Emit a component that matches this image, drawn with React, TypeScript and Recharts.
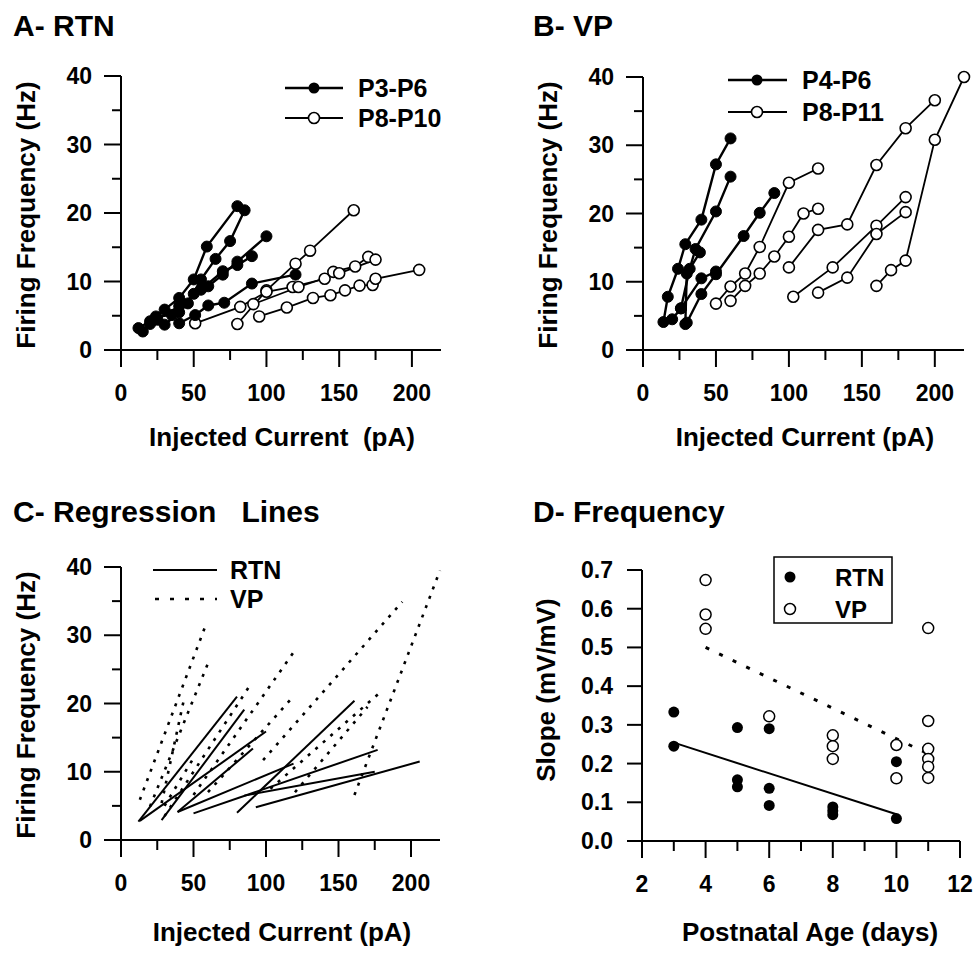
import React from 'react';
import { LineChart, ComposedChart, Line, Scatter, XAxis, YAxis } from 'recharts';

// ---- A: RTN, firing frequency vs injected current (pA, Hz) ----
const rtnP3P6a = [[12, 3.2], [20, 4.2], [30, 5.9], [40, 7.6], [50, 10.3], [59, 15.1], [80, 21.0]];
const rtnP3P6b = [[15, 2.7], [24, 4.9], [35, 5.1], [46, 6.8], [55, 10.3], [65, 13.3], [75, 15.9], [85, 20.4]];
const rtnP3P6c = [[20, 3.8], [30, 3.7], [40, 5.5], [50, 8.2], [60, 9.3], [70, 11.0], [80, 12.9], [100, 16.6]];
const rtnP3P6d = [[25, 4.5], [40, 6.4], [55, 8.8], [70, 11.5], [80, 12.4], [90, 13.7]];
const rtnP3P6e = [[40, 3.9], [51, 5.1], [60, 6.5], [71, 6.9], [90, 9.7], [120, 11.0]];

const rtnP8P10a = [[80, 3.8], [100, 8.7], [120, 12.6], [130, 14.5], [160, 20.4]];
const rtnP8P10b = [[51, 3.9], [82, 6.3], [100, 8.5], [118, 9.2], [140, 10.4], [146, 11.4], [161, 12.2], [170, 13.6]];
const rtnP8P10c = [[95, 4.9], [114, 6.2], [132, 7.6], [144, 8.0], [154, 8.7], [164, 9.4], [173, 9.5], [175, 10.4], [205, 11.7]];
const rtnP8P10d = [[91, 6.7], [122, 9.2], [150, 11.2], [175, 13.2]];

// ---- B: VP ----
const vpP4P6a = [[14, 4.1], [17, 7.8], [24, 11.9], [29, 15.5], [40, 19.1], [50, 27.2], [60, 31.0]];
const vpP4P6b = [[20, 4.5], [26, 6.1], [32, 11.9], [36, 14.8], [50, 20.3], [60, 25.4]];
const vpP4P6c = [[29, 3.8], [30, 11.2], [39, 14.3]];
const vpP4P6d = [[30, 4.0], [40, 8.2], [50, 11.1], [69, 16.7], [80, 20.1], [90, 23.0]];
const vpP4P6e = [[26, 6.1], [40, 10.5], [50, 11.5]];

const vpP8P11a = [[50, 6.8], [60, 9.3], [70, 11.2], [80, 15.1], [100, 24.5], [120, 26.6]];
const vpP8P11b = [[60, 7.2], [70, 9.4], [80, 11.2], [90, 13.7], [100, 16.6], [110, 20.0], [120, 20.7]];
const vpP8P11c = [[100, 12.1], [120, 17.6], [140, 18.4], [160, 27.1], [180, 32.5], [200, 36.6]];
const vpP8P11d = [[103, 7.8], [130, 12.1], [160, 18.2], [180, 22.4]];
const vpP8P11e = [[120, 8.4], [140, 10.6], [160, 17.0], [180, 20.2]];
const vpP8P11f = [[160, 9.4], [170, 11.7], [180, 13.1], [200, 30.8], [220, 40.0]];

// ---- C: regression lines, [x start, y start, x end, y end] ----
const rtnFits = [
  [12, 2.7, 80, 21.0], [28, 2.9, 85, 19.1], [13, 2.8, 100, 15.9], [39, 4.1, 91, 13.4],
  [50, 3.9, 177, 13.2], [39, 4.1, 119, 11.2], [80, 4.0, 161, 20.4], [93, 4.8, 206, 11.5],
  [85, 6.5, 175, 10.0],
];
const vpFits = [
  [13, 5.9, 59, 31.8], [20, 4.9, 60, 25.9], [28, 5.4, 43, 20.2], [30, 3.5, 90, 23.0],
  [30, 5.0, 50, 12.0], [50, 6.6, 120, 27.8], [60, 7.0, 117, 20.6], [98, 11.7, 194, 34.9],
  [103, 7.5, 178, 21.5], [120, 7.0, 170, 19.5], [161, 6.6, 220, 39.5],
];

// ---- D: slope vs postnatal age ----
const rtnAge = [3, 3, 5, 5, 5, 6, 6, 6, 8, 8, 8, 10, 10];
const rtnSlope = [0.333, 0.245, 0.293, 0.158, 0.14, 0.29, 0.136, 0.092, 0.088, 0.078, 0.068, 0.205, 0.058];
const vpAge = [4, 4, 4, 6, 8, 8, 8, 10, 10, 11, 11, 11, 11, 11, 11];
const vpSlope = [0.674, 0.585, 0.548, 0.322, 0.273, 0.245, 0.212, 0.248, 0.162, 0.55, 0.31, 0.238, 0.212, 0.192, 0.163];
const rtnFitAge = [3, 10];
const rtnFitSlope = [0.254, 0.069];
const vpFitAge = [4, 11];
const vpFitSlope = [0.5, 0.225];

// ---- ticks ----
const currentTicks = [0, 25, 50, 75, 100, 125, 150, 175, 200];
const freqTicks = [0, 5, 10, 15, 20, 25, 30, 35, 40];
const ageTicks = [2, 3, 4, 5, 6, 7, 8, 9, 10, 11, 12];
const slopeTicks = [0, 0.1, 0.2, 0.3, 0.4, 0.5, 0.6, 0.7];

const FONT = '"Liberation Sans", Arial, Helvetica, sans-serif';
const AX = { stroke: '#000', strokeWidth: 2 };

const pts = (a: number[][]) => a.map(([x, y]) => ({ x, y }));
const zip = (xs: number[], ys: number[]) => xs.map((x, i) => ({ x, y: ys[i] }));

// tick labels (major ticks only) through recharts
function xTick(major: (v: number) => boolean, fmt: (v: number) => string) {
  return (p: any) => {
    const v = p.payload.value;
    if (!major(v)) return <g />;
    return (
      <text x={p.x} y={p.y + 43} textAnchor="middle" dominantBaseline="central"
        fontFamily={FONT} fontWeight={700} fontSize={23} fill="#000">{fmt(v)}</text>
    );
  };
}

function yTick(major: (v: number) => boolean, fmt: (v: number) => string) {
  return (p: any) => {
    const v = p.payload.value;
    if (!major(v)) return <g />;
    return (
      <text x={p.x - 29} y={p.y} textAnchor="end" dominantBaseline="central"
        fontFamily={FONT} fontWeight={700} fontSize={23} fill="#000">{fmt(v)}</text>
    );
  };
}

const by50 = (v: number) => v % 50 === 0;
const by10 = (v: number) => v % 10 === 0;
const even = (v: number) => v % 2 === 0;
const str = (v: number) => String(v);

const filledDot = { r: 5.5, fill: '#000', stroke: '#000', strokeWidth: 1 };
const openDot = { r: 5.5, fill: '#fff', stroke: '#000', strokeWidth: 1.6 };

// plot frames in page pixels (left, right, top, bottom) and domains, shared by charts and tick marks
const FRAME_A = { l: 121, r: 441, t: 76, b: 350, x0: 0, x1: 220, y0: 0, y1: 40 };
const FRAME_B = { l: 643, r: 964, t: 77, b: 350, x0: 0, x1: 220, y0: 0, y1: 40 };
const FRAME_C = { l: 121, r: 440, t: 567, b: 840, x0: 0, x1: 220, y0: 0, y1: 40 };
const FRAME_D = { l: 642, r: 960, t: 570, b: 841, x0: 2, x1: 12, y0: 0, y1: 0.7 };

function FiringPanel(props: {
  left: number; top: number; width: number; height: number;
  margin: { top: number; right: number; bottom: number; left: number };
  young: number[][][]; old: number[][][];
}) {
  const { left, top, width, height, margin, young, old } = props;
  return (
    <div style={{ position: 'absolute', left, top }}>
      <LineChart width={width} height={height} margin={margin}>
        <XAxis type="number" dataKey="x" domain={[0, 220]} ticks={currentTicks} interval={0}
          tickSize={0} tickMargin={0} height={1} axisLine={AX} tickLine={false} tick={xTick(by50, str)} />
        <YAxis type="number" dataKey="y" domain={[0, 40]} ticks={freqTicks} interval={0}
          tickSize={0} tickMargin={0} width={1} axisLine={AX} tickLine={false} tick={yTick(by10, str)} />
        {old.map((s, i) => (
          <Line key={'o' + i} data={pts(s)} dataKey="y" stroke="#000" strokeWidth={1.8}
            dot={openDot} activeDot={false} isAnimationActive={false} />
        ))}
        {young.map((s, i) => (
          <Line key={'y' + i} data={pts(s)} dataKey="y" stroke="#000" strokeWidth={2.4}
            dot={filledDot} activeDot={false} isAnimationActive={false} />
        ))}
      </LineChart>
    </div>
  );
}

function RegressionPanel() {
  return (
    <div style={{ position: 'absolute', left: 0, top: 480 }}>
      <LineChart width={480} height={474} margin={{ top: 87, right: 40, bottom: 113, left: 120 }}>
        <XAxis type="number" dataKey="x" domain={[0, 220]} ticks={currentTicks} interval={0}
          tickSize={0} tickMargin={0} height={1} axisLine={AX} tickLine={false} tick={xTick(by50, str)} />
        <YAxis type="number" dataKey="y" domain={[0, 40]} ticks={freqTicks} interval={0}
          tickSize={0} tickMargin={0} width={1} axisLine={AX} tickLine={false} tick={yTick(by10, str)} />
        {vpFits.map((f, i) => (
          <Line key={'v' + i} data={zip([f[0], f[2]], [f[1], f[3]])} dataKey="y" stroke="#000"
            strokeWidth={2.6} strokeDasharray="3 7" dot={false} activeDot={false} isAnimationActive={false} />
        ))}
        {rtnFits.map((f, i) => (
          <Line key={'r' + i} data={zip([f[0], f[2]], [f[1], f[3]])} dataKey="y" stroke="#000"
            strokeWidth={2} dot={false} activeDot={false} isAnimationActive={false} />
        ))}
      </LineChart>
    </div>
  );
}

function SlopePanel() {
  return (
    <div style={{ position: 'absolute', left: 480, top: 480 }}>
      <ComposedChart width={497} height={474} margin={{ top: 90, right: 17, bottom: 112, left: 161 }}>
        <XAxis type="number" dataKey="x" domain={[2, 12]} ticks={ageTicks} interval={0}
          tickSize={0} tickMargin={0} height={1} axisLine={AX} tickLine={false} tick={xTick(even, str)} />
        <YAxis type="number" dataKey="y" domain={[0, 0.7]} ticks={slopeTicks} interval={0}
          tickSize={0} tickMargin={0} width={1} axisLine={AX} tickLine={false}
          tick={yTick(() => true, (v) => v.toFixed(1))} />
        <Line data={zip(vpFitAge, vpFitSlope)} dataKey="y" stroke="#000" strokeWidth={3}
          strokeDasharray="4 11" dot={false} activeDot={false} isAnimationActive={false} />
        <Line data={zip(rtnFitAge, rtnFitSlope)} dataKey="y" stroke="#000" strokeWidth={2}
          dot={false} activeDot={false} isAnimationActive={false} />
        <Scatter data={zip(vpAge, vpSlope)} isAnimationActive={false}
          shape={(p: any) => <circle cx={p.cx} cy={p.cy} r={5.5} fill="#fff" stroke="#000" strokeWidth={1.5} />} />
        <Scatter data={zip(rtnAge, rtnSlope)} isAnimationActive={false}
          shape={(p: any) => <circle cx={p.cx} cy={p.cy} r={5.5} fill="#000" />} />
      </ComposedChart>
    </div>
  );
}

type Frame = typeof FRAME_A;

// outward tick marks for one panel, same linear mapping as the chart frame
function TickMarks({ f, xt, yt, xMajor, yMajor, yLen = 17 }: {
  f: Frame; xt: number[]; yt: number[];
  xMajor: (v: number) => boolean; yMajor: (v: number) => boolean; yLen?: number;
}) {
  const sx = (v: number) => f.l + ((v - f.x0) / (f.x1 - f.x0)) * (f.r - f.l);
  const sy = (v: number) => f.b - ((v - f.y0) / (f.y1 - f.y0)) * (f.b - f.t);
  return (
    <g stroke="#000" strokeWidth={2}>
      {xt.map((v) => (
        <line key={'x' + v} x1={sx(v)} y1={f.b} x2={sx(v)} y2={f.b + (xMajor(v) ? 17 : 10)} />
      ))}
      {yt.map((v) => (
        <line key={'y' + v} x1={f.l - (yMajor(v) ? yLen : 9)} y1={sy(v)} x2={f.l} y2={sy(v)} />
      ))}
    </g>
  );
}

const T = { fontFamily: FONT, fontWeight: 700, fill: '#000' } as const;
const isTenth = (v: number) => Math.abs(v * 10 - Math.round(v * 10)) < 1e-6;

function Overlay() {
  return (
    <svg width={977} height={954} style={{ position: 'absolute', left: 0, top: 0, pointerEvents: 'none' }}>
      <TickMarks f={FRAME_A} xt={currentTicks} yt={freqTicks} xMajor={by50} yMajor={by10} />
      <TickMarks f={FRAME_B} xt={currentTicks} yt={freqTicks} xMajor={by50} yMajor={by10} />
      <TickMarks f={FRAME_C} xt={currentTicks} yt={freqTicks} xMajor={by50} yMajor={by10} />
      <TickMarks f={FRAME_D} xt={ageTicks} yt={slopeTicks} xMajor={even} yMajor={isTenth} yLen={15} />

      {/* panel titles */}
      <text x={13} y={25} fontSize={30} dominantBaseline="central" {...T}>A- RTN</text>
      <text x={533} y={25} fontSize={30} dominantBaseline="central" {...T}>B- VP</text>
      <text x={13} y={511} fontSize={30} dominantBaseline="central" style={{ whiteSpace: 'pre' }} {...T}>C- Regression   Lines</text>
      <text x={533} y={511} fontSize={30} dominantBaseline="central" {...T}>D- Frequency</text>

      {/* axis titles */}
      <text x={0} y={0} fontSize={26} textAnchor="middle" dominantBaseline="central" transform="translate(26,215) rotate(-90)" {...T}>Firing Frequency (Hz)</text>
      <text x={0} y={0} fontSize={26} textAnchor="middle" dominantBaseline="central" transform="translate(548,215) rotate(-90)" {...T}>Firing Frequency (Hz)</text>
      <text x={0} y={0} fontSize={26} textAnchor="middle" dominantBaseline="central" transform="translate(26,705) rotate(-90)" {...T}>Firing Frequency (Hz)</text>
      <text x={0} y={0} fontSize={26} textAnchor="middle" dominantBaseline="central" transform="translate(546,690) rotate(-90)" {...T}>Slope (mV/mV)</text>
      <text x={282} y={437} fontSize={26} textAnchor="middle" dominantBaseline="central" style={{ whiteSpace: 'pre' }} {...T}>Injected Current  (pA)</text>
      <text x={805} y={437} fontSize={26} textAnchor="middle" dominantBaseline="central" {...T}>Injected Current (pA)</text>
      <text x={282} y={932} fontSize={26} textAnchor="middle" dominantBaseline="central" {...T}>Injected Current (pA)</text>
      <text x={810} y={932} fontSize={26} textAnchor="middle" dominantBaseline="central" {...T}>Postnatal Age (days)</text>

      {/* legend A */}
      <line x1={285} y1={88} x2={343} y2={88} stroke="#000" strokeWidth={2.4} />
      <circle cx={314} cy={88} r={5.5} fill="#000" />
      <text x={358} y={88} fontSize={25} dominantBaseline="central" {...T}>P3-P6</text>
      <line x1={285} y1={118} x2={343} y2={118} stroke="#000" strokeWidth={1.8} />
      <circle cx={314} cy={118} r={5.5} fill="#fff" stroke="#000" strokeWidth={1.6} />
      <text x={358} y={118} fontSize={25} dominantBaseline="central" {...T}>P8-P10</text>

      {/* legend B */}
      <line x1={728} y1={80} x2={787} y2={80} stroke="#000" strokeWidth={2.4} />
      <circle cx={757} cy={80} r={5.5} fill="#000" />
      <text x={802} y={80} fontSize={25} dominantBaseline="central" {...T}>P4-P6</text>
      <line x1={728} y1={112} x2={787} y2={112} stroke="#000" strokeWidth={1.8} />
      <circle cx={757} cy={112} r={5.5} fill="#fff" stroke="#000" strokeWidth={1.6} />
      <text x={802} y={112} fontSize={25} dominantBaseline="central" {...T}>P8-P11</text>

      {/* legend C */}
      <line x1={153} y1={570} x2={217} y2={570} stroke="#000" strokeWidth={2} />
      <text x={230} y={570} fontSize={25} dominantBaseline="central" {...T}>RTN</text>
      <line x1={155} y1={599} x2={217} y2={599} stroke="#000" strokeWidth={2.6} strokeDasharray="4 11" />
      <text x={230} y={599} fontSize={25} dominantBaseline="central" {...T}>VP</text>

      {/* legend D */}
      <rect x={774} y={557} width={118} height={66} fill="none" stroke="#000" strokeWidth={1.5} />
      <circle cx={790} cy={577} r={5.5} fill="#000" />
      <text x={835} y={577} fontSize={24} dominantBaseline="central" {...T}>RTN</text>
      <circle cx={790} cy={609} r={5.5} fill="#fff" stroke="#000" strokeWidth={1.5} />
      <text x={835} y={609} fontSize={24} dominantBaseline="central" {...T}>VP</text>
    </svg>
  );
}

export default function App() {
  return (
    <div style={{ position: 'absolute', left: 0, top: 0, width: 977, height: 954, background: '#fff' }}>
      <FiringPanel left={0} top={0} width={480} height={480}
        margin={{ top: 76, right: 39, bottom: 129, left: 120 }}
        young={[rtnP3P6a, rtnP3P6b, rtnP3P6c, rtnP3P6d, rtnP3P6e]}
        old={[rtnP8P10a, rtnP8P10b, rtnP8P10c, rtnP8P10d]} />
      <FiringPanel left={480} top={0} width={497} height={480}
        margin={{ top: 77, right: 13, bottom: 129, left: 162 }}
        young={[vpP4P6a, vpP4P6b, vpP4P6c, vpP4P6d, vpP4P6e]}
        old={[vpP8P11a, vpP8P11b, vpP8P11c, vpP8P11d, vpP8P11e, vpP8P11f]} />
      <RegressionPanel />
      <SlopePanel />
      <Overlay />
    </div>
  );
}
